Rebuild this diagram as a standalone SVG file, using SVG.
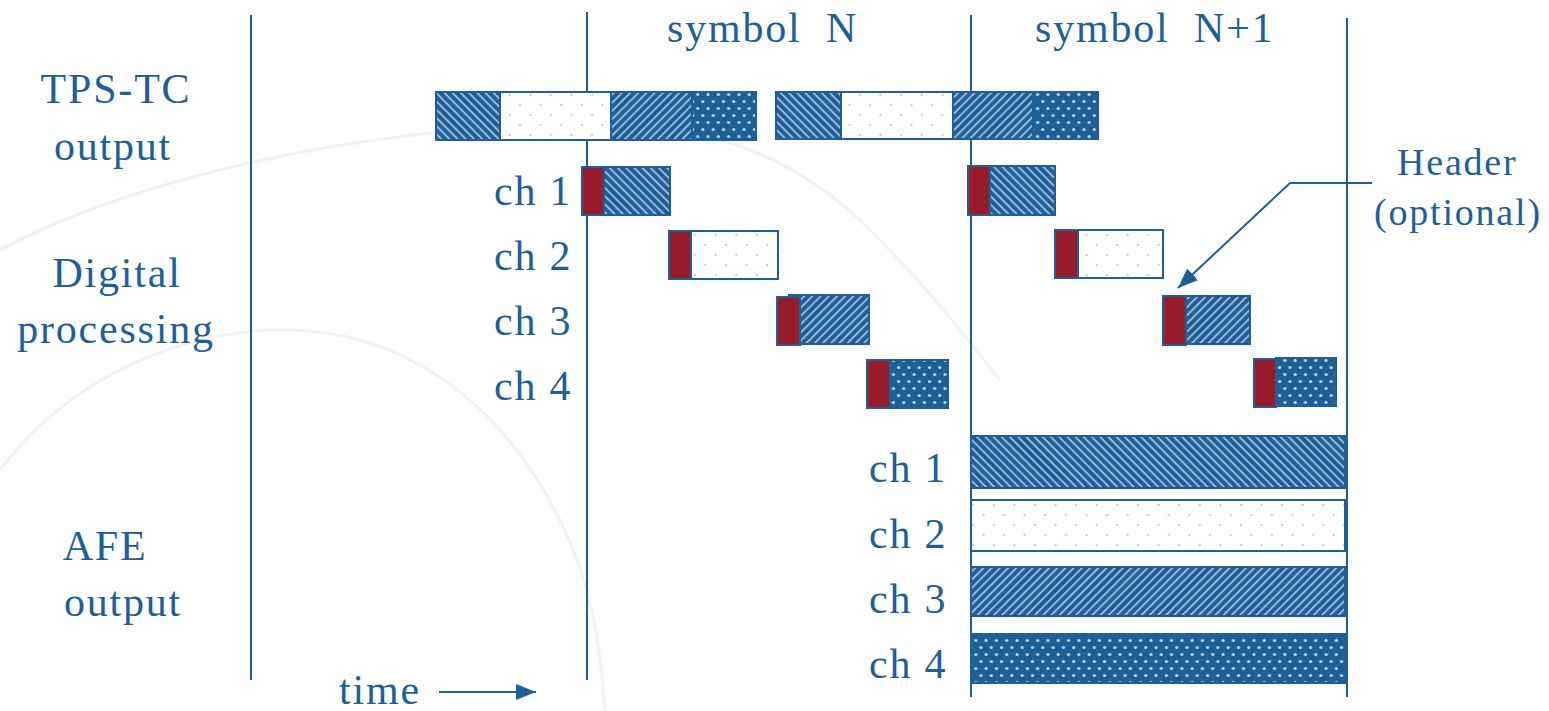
<svg xmlns="http://www.w3.org/2000/svg" width="1549" height="711" viewBox="0 0 1549 711">
<style>
text{font-family:"Liberation Serif","Times New Roman",serif;fill:#1e5f98;font-size:42px;letter-spacing:1.8px}
.lbl{text-anchor:middle}
.vl{stroke:#1e5f98;stroke-width:2;fill:none}
.box{stroke:#1e5f98;stroke-width:2}
.hdr{fill:#961c2b;stroke:#1e5f98;stroke-width:2}
.bg{fill:none;stroke:#f2f2f2;stroke-width:3}
.conn{stroke:#1e5f98;stroke-width:2;fill:none}
</style>
<defs>
<pattern id="pA" width="5.8" height="5.8" patternUnits="userSpaceOnUse" patternTransform="rotate(45)"><rect width="5.8" height="5.8" fill="#1e5f98"/><rect width="5.8" height="1.7" fill="#a9c3de"/></pattern>
<pattern id="pC" width="5.8" height="5.8" patternUnits="userSpaceOnUse" patternTransform="rotate(-45)"><rect width="5.8" height="5.8" fill="#1e5f98"/><rect width="5.8" height="1.7" fill="#a9c3de"/></pattern>
<pattern id="pB" width="20.6" height="20" patternUnits="userSpaceOnUse"><rect width="20.6" height="20" fill="#ffffff"/><circle cx="5" cy="5" r="1.2" fill="#c3cfe2"/><circle cx="15.3" cy="15" r="1.2" fill="#c3cfe2"/></pattern>
<pattern id="pD" width="10.3" height="14" patternUnits="userSpaceOnUse"><rect width="10.3" height="14" fill="#1e5f98"/><circle cx="2.5" cy="3.5" r="1.6" fill="#c5d8ec"/><circle cx="7.65" cy="10.5" r="1.6" fill="#c5d8ec"/></pattern>
<marker id="ah" markerWidth="22" markerHeight="16" refX="20" refY="8" orient="auto" markerUnits="userSpaceOnUse"><path d="M0,0 L20,8 L0,16 z" fill="#1e5f98"/></marker>
</defs>
<rect width="1549" height="711" fill="#ffffff"/>
<g id="watermark">
<path class="bg" d="M0,250 C150,170 400,120 620,125 C720,128 800,160 870,230 C930,290 960,330 1000,380"/>
<path class="bg" d="M0,470 C60,390 160,335 270,330 C400,325 500,400 560,520 C590,580 600,640 605,711"/>
</g>
<g id="timeline">
<line class="vl" x1="251" y1="15" x2="251" y2="680"/>
<line class="vl" x1="587" y1="12" x2="587" y2="680"/>
<line class="vl" x1="971" y1="15" x2="971" y2="697"/>
<line class="vl" x1="1347" y1="18" x2="1347" y2="697"/>
</g>
<g id="labels">
<text x="667" y="42" style="white-space:pre">symbol  N</text>
<text x="1035" y="42" style="white-space:pre">symbol  N+1</text>
<text class="lbl" x="116" y="103">TPS-TC</text>
<text class="lbl" x="113" y="160">output</text>
<text class="lbl" x="117" y="287">Digital</text>
<text class="lbl" x="116" y="343">processing</text>
<text class="lbl" x="105" y="560">AFE</text>
<text class="lbl" x="123" y="616">output</text>
<text x="339" y="704">time</text>
<text x="1397" y="175" style="font-size:38px">Header</text>
<text x="1374" y="225" style="font-size:38px">(optional)</text>
</g>
<g id="tps-n">
<rect class="box" x="436" y="92" width="64" height="48" fill="url(#pA)"/>
<rect class="box" x="500" y="92" width="111" height="48" fill="url(#pB)"/>
<rect class="box" x="611" y="92" width="81" height="48" fill="url(#pC)"/>
<rect class="box" x="692" y="92" width="64" height="48" fill="url(#pD)"/>
</g>
<g id="tps-n1">
<rect class="box" x="776" y="92" width="65" height="47" fill="url(#pA)"/>
<rect class="box" x="841" y="92" width="112" height="47" fill="url(#pB)"/>
<rect class="box" x="953" y="92" width="80" height="47" fill="url(#pC)"/>
<rect class="box" x="1033" y="92" width="65" height="47" fill="url(#pD)"/>
</g>
<g id="dp-labels">
<text x="494" y="205">ch 1</text>
<text x="494" y="270">ch 2</text>
<text x="494" y="335">ch 3</text>
<text x="494" y="400">ch 4</text>
</g>
<g id="dp-n-ch1"><rect class="box" x="604" y="167" width="66" height="48" fill="url(#pA)"/><rect class="hdr" x="582" y="167" width="22" height="48"/></g>
<g id="dp-n-ch2"><rect class="box" x="691" y="231" width="87" height="48" fill="url(#pB)"/><rect class="hdr" x="669" y="231" width="22" height="48"/></g>
<g id="dp-n-ch3"><rect class="box" x="789" y="295" width="80" height="49" fill="url(#pC)"/><rect class="hdr" x="777" y="297" width="23" height="48"/></g>
<g id="dp-n-ch4"><rect class="box" x="890" y="360" width="58" height="48" fill="url(#pD)"/><rect class="hdr" x="867" y="360" width="23" height="48"/></g>
<g id="dp-n1-ch1"><rect class="box" x="990" y="166" width="65" height="49" fill="url(#pA)"/><rect class="hdr" x="968" y="166" width="22" height="49"/></g>
<g id="dp-n1-ch2"><rect class="box" x="1078" y="230" width="85" height="48" fill="url(#pB)"/><rect class="hdr" x="1055" y="230" width="23" height="48"/></g>
<g id="dp-n1-ch3"><rect class="box" x="1186" y="296" width="64" height="48" fill="url(#pC)"/><rect class="hdr" x="1163" y="296" width="23" height="49"/></g>
<g id="dp-n1-ch4"><rect class="box" x="1276" y="358" width="60" height="48" fill="url(#pD)"/><rect class="hdr" x="1254" y="359" width="22" height="48"/></g>
<g id="afe-labels">
<text x="869" y="482">ch 1</text>
<text x="869" y="548">ch 2</text>
<text x="869" y="613">ch 3</text>
<text x="869" y="678">ch 4</text>
</g>
<g id="afe-ch1"><rect class="box" x="971" y="436" width="374" height="52" fill="url(#pA)"/></g>
<g id="afe-ch2"><rect class="box" x="971" y="500" width="374" height="51" fill="url(#pB)"/></g>
<g id="afe-ch3"><rect class="box" x="971" y="567" width="374" height="49" fill="url(#pC)"/></g>
<g id="afe-ch4"><rect class="box" x="971" y="634" width="374" height="49" fill="url(#pD)"/></g>
<g id="connectors">
<polyline class="conn" points="1372,183 1290,183 1178,288" marker-end="url(#ah)"/>
<line class="conn" x1="439" y1="692" x2="536" y2="692" marker-end="url(#ah)"/>
</g>
</svg>
